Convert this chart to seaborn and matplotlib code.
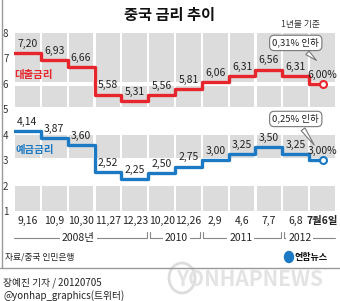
import matplotlib
matplotlib.use("Agg")
import matplotlib.pyplot as plt
import matplotlib.transforms as mtransforms
from matplotlib.patches import Rectangle, Ellipse
import seaborn as sns

# data
dates = ["9,16", "10,9", "10,30", "11,27", "12,23", "10,20", "12,26",
         "2,9", "4,6", "7,7", "6,8", "7월6일"]
lending = [7.20, 6.93, 6.66, 5.58, 5.31, 5.56, 5.81, 6.06, 6.31, 6.56, 6.31, 6.00]
deposit = [4.14, 3.87, 3.60, 2.52, 2.25, 2.50, 2.75, 3.00, 3.25, 3.50, 3.25, 3.00]
years = ["2008년", "2010", "2011", "2012"]
year_cols = [(0, 4), (5, 6), (7, 9), (10, 11)]
year_text_x = [1.9, 5.55, 7.95, 10.15]

RED = "#e6252c"
BLUE = "#1c79c3"
GRAY = "#dcdcdc"

sns.set_theme(style="white")
plt.rcParams["font.family"] = ["Noto Sans CJK KR", "DejaVu Sans"]

W, H = 340, 301
fig = plt.figure(figsize=(W / 100, H / 100), dpi=100)
ax = fig.add_axes([14 / W, (H - 211) / H, 322 / W, 178 / H])
ax.set_xlim(-0.5, 11.5)
ax.set_ylim(1, 8)
for s in ax.spines.values():
    s.set_visible(False)

# gray cells
bands = [(6.07, 8.0), (5.1, 5.93), (3.08, 4.0), (1.0, 2.0)]
for i in range(len(dates)):
    for lo, hi in bands:
        ax.add_patch(Rectangle((i - 0.46, lo), 0.92, hi - lo, color=GRAY,
                               lw=0, zorder=0))

xs = [-0.5] + list(range(len(dates)))
for vals, col in [(lending, RED), (deposit, BLUE)]:
    sns.lineplot(x=xs, y=[vals[0]] + vals, drawstyle="steps-mid", color=col,
                 linewidth=2.4, ax=ax, zorder=3)
    ax.plot(len(vals) - 1, vals[-1], "o", ms=5, mfc="white", mec=col,
            mew=1.5, zorder=4)
    for i, v in enumerate(vals):
        lab = f"{v:.2f}".replace(".", ",")
        if i == len(vals) - 1:
            lab += "%"
        ax.annotate(lab, (i, v), xytext=(0, 3), textcoords="offset points",
                    ha="center", va="bottom", fontsize=7.5, color="#222")

ax.text(-0.5, 6.35, "대출금리", color=RED, fontsize=7.5, fontweight="bold",
        va="center", ha="left")
ax.text(-0.45, 3.4, "예금금리", color=BLUE, fontsize=7.5, fontweight="bold",
        va="center", ha="left")

# callouts
for txt, tip, pos in [("0,31% 인하", (10.85, 6.85), (10.0, 7.61)),
                      ("0,25% 인하", (10.75, 3.5), (10.0, 4.62))]:
    ax.annotate(txt, tip, xytext=pos, textcoords="data", ha="center",
                va="center", fontsize=6.8, color="#222", zorder=6,
                bbox=dict(boxstyle="round,pad=0.3,rounding_size=0.5",
                          fc="white", ec="#777", lw=0.8),
                arrowprops=dict(arrowstyle="wedge,tail_width=0.5,shrink_factor=0.5",
                                fc="white", ec="#777", lw=0.8))

ax.set_yticks(range(1, 9))
ax.set_yticklabels([str(v) for v in range(1, 9)], fontsize=7, color="#333")
ax.set_xticks(range(len(dates)))
ax.set_xticklabels(dates, fontsize=7.5, color="#222")
ax.get_xticklabels()[-1].set_fontweight("bold")
ax.tick_params(axis="both", length=0)
ax.tick_params(axis="x", pad=3.5)
ax.tick_params(axis="y", pad=4)

# year row
tr = mtransforms.blended_transform_factory(ax.transData, ax.transAxes)
yl = -0.152
ytk = -0.118
for k, ((a, b), name) in enumerate(zip(year_cols, years)):
    left = a - 0.5 + (0.06 if k > 0 else 0.0)
    right = b + 0.5 - (0.06 if k < len(years) - 1 else 0.04)
    ax.plot([left, right], [yl, yl], color="#888", lw=0.8, transform=tr,
            clip_on=False)
    if k > 0:
        ax.plot([left, left], [yl, ytk], color="#888", lw=0.8, transform=tr,
                clip_on=False)
    if k < len(years) - 1:
        ax.plot([right, right], [yl, ytk], color="#888", lw=0.8, transform=tr,
                clip_on=False)
    ax.text(year_text_x[k], yl, name, transform=tr, ha="center", va="center",
            fontsize=7.5, color="#222",
            bbox=dict(fc="white", ec="none", pad=1.5))

# titles and notes
fig.text(170 / W, 1 - 15 / H, "중국 금리 추이", ha="center", va="center",
         fontsize=11, fontweight="bold", color="#111")
fig.text(300 / W, 1 - 25 / H, "1년물 기준", ha="center", va="center",
         fontsize=6.3, color="#333")
fig.text(5 / W, 1 - 257 / H, "자료/중국 인민은행", ha="left", va="center",
         fontsize=6.3, color="#222", style="italic")
fig.add_artist(Ellipse((289 / W, 1 - 257 / H), 9 / W, 11 / H,
                       transform=fig.transFigure, color=BLUE))
fig.text(295 / W, 1 - 257 / H, "연합뉴스", ha="left", va="center",
         fontsize=6.5, fontweight="bold", color="#111")

# frame
fig.add_artist(plt.Line2D([1.5 / W, 1.5 / W], [1, 1 - 268 / H],
                          transform=fig.transFigure, color="#999", lw=1))
fig.add_artist(plt.Line2D([0, 1], [1 - 268 / H, 1 - 268 / H],
                          transform=fig.transFigure, color="#999", lw=1))

# watermark
fig.text(250 / W, 1 - 280 / H, "YONHAPNEWS", ha="center", va="center",
         fontsize=15, fontweight="bold", style="italic", color="#e3e3e3",
         zorder=0)
fig.add_artist(Ellipse((182 / W, 1 - 278 / H), 26 / W, 30 / H,
                       transform=fig.transFigure, fc="none", ec="#dddddd",
                       lw=2, zorder=0))

fig.text(3 / W, 1 - 283 / H, "장예진 기자 / 20120705", ha="left", va="center",
         fontsize=7, color="#222")
fig.text(3 / W, 1 - 296 / H, "@yonhap_graphics(트위터)", ha="left",
         va="center", fontsize=7, color="#222")

fig.savefig("out.png", dpi=100)
